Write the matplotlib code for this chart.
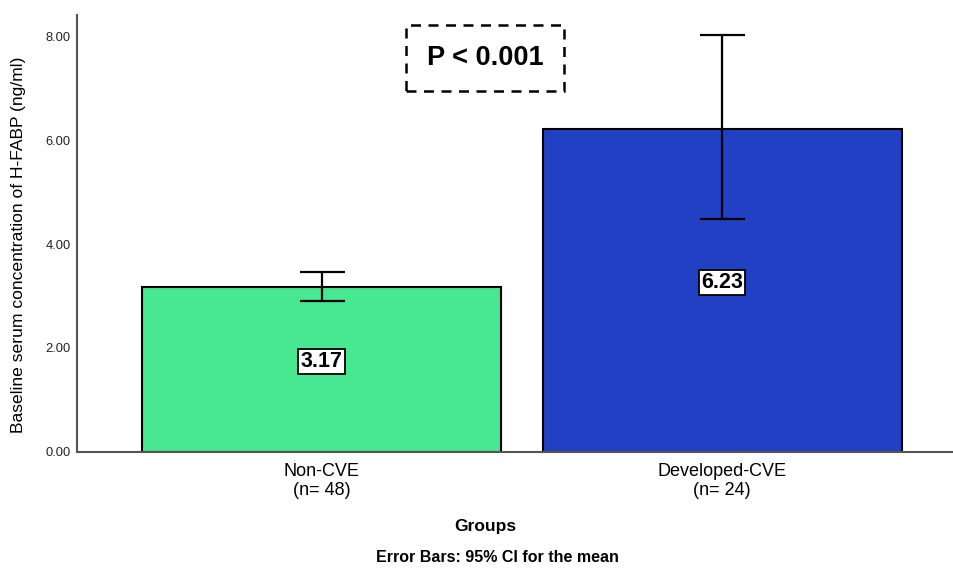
import matplotlib
matplotlib.use("Agg")
import matplotlib.pyplot as plt
import numpy as np

plt.rcParams['font.family'] = ['Liberation Sans', 'DejaVu Sans']

categories = ["Non-CVE\n(n= 48)", "Developed-CVE\n(n= 24)"]
means = [3.17, 6.23]
ci_low = [2.91, 4.49]
ci_high = [3.47, 8.03]
colors = ["#47E891", "#2240C4"]
yticks = [0.0, 2.0, 4.0, 6.0, 8.0]

fig = plt.figure(figsize=(9.54, 5.69), dpi=100)
W, H = 954, 569
left_px, right_px, top_px, bot_px = 77, 954, 15, 451.5
ax = fig.add_axes([left_px / W, (H - bot_px) / H, (right_px - left_px) / W, (bot_px - top_px) / H])

x = np.arange(len(categories))
ax.bar(x, means, width=0.896, color=colors, edgecolor="black", linewidth=1.5, zorder=2)

m = np.array(means)
yerr = np.vstack([m - np.array(ci_low), np.array(ci_high) - m])
ax.errorbar(x, means, yerr=yerr, fmt="none", ecolor="black", elinewidth=1.6,
            capsize=16.2, capthick=1.6, zorder=3)

for xi, v in zip(x, means):
    ax.text(xi, v / 2 + 0.15, f"{v:.2f}", ha="center", va="center", fontsize=15.5,
            fontweight="bold", zorder=4,
            bbox=dict(boxstyle="square,pad=0.1", facecolor="white", edgecolor="black", linewidth=1.3))

ax.set_xlim(-0.6105, 1.579)
ax.set_ylim(0, 8.42)
ax.set_yticks(yticks)
ax.set_yticklabels([f"{t:.2f}" for t in yticks], fontsize=9.3, color="#222222")
ax.set_xticks(x)
ax.set_xticklabels(categories, fontsize=13, linespacing=1.15, color="black")
ax.tick_params(axis="both", length=0)
ax.tick_params(axis="y", pad=4.5)
ax.tick_params(axis="x", pad=8)

for s in ["top", "right"]:
    ax.spines[s].set_visible(False)
for s in ["left", "bottom"]:
    ax.spines[s].set_color("#555555")
    ax.spines[s].set_linewidth(1.5)

ax.text(0.408, 7.59, "P < 0.001", ha="center", va="center", fontsize=19.5, fontweight="bold",
        bbox=dict(boxstyle="square,pad=0.75", facecolor="white", edgecolor="black",
                  linewidth=1.8, linestyle=(0, (4, 3))))

fig.text(19 / W, 1 - 245 / H, "Baseline serum concentration of H-FABP (ng/ml)", rotation=90,
         ha="center", va="center", fontsize=12.6, color="black")
fig.text(485 / W, 1 - 527 / H, "Groups", ha="center", va="center", fontsize=12.5, fontweight="bold")
fig.text(497 / W, 1 - 557 / H, "Error Bars: 95% CI for the mean", ha="center", va="center",
         fontsize=11.5, fontweight="bold")

fig.savefig("out.png", dpi=100)
